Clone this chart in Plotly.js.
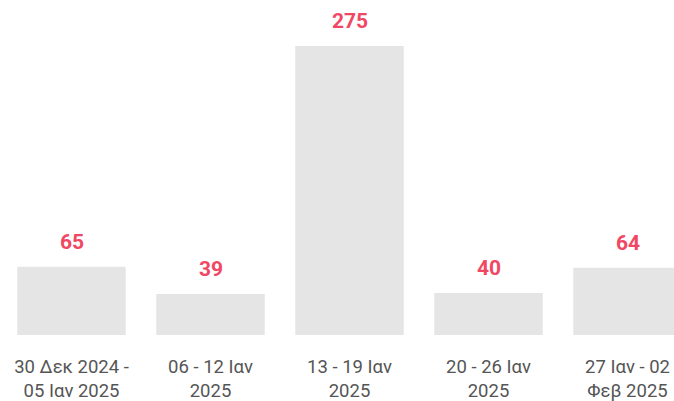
<!DOCTYPE html>
<html>
<head>
<meta charset="utf-8">
<script src="https://cdn.plot.ly/plotly-3.0.1.min.js"></script>
<style>
html, body { margin: 0; padding: 0; overflow: hidden; background: #fff; }
#chart { width: 698px; height: 401px; }
</style>
</head>
<body>
<div id="chart"></div>
<script>
const categories = [
  "30 Δεκ 2024 -<br>05 Ιαν 2025",
  "06 - 12 Ιαν<br>2025",
  "13 - 19 Ιαν<br>2025",
  "20 - 26 Ιαν<br>2025",
  "27 Ιαν - 02<br>Φεβ 2025"
];
const values = [65, 39, 275, 40, 64];

const trace = {
  type: 'bar',
  x: categories,
  y: values,
  marker: { color: '#e5e5e5' },
  hoverinfo: 'none'
};

const annotations = categories.map((c, i) => ({
  x: c, y: values[i], xref: 'x', yref: 'y',
  text: String(values[i]),
  showarrow: false,
  yanchor: 'bottom',
  yshift: 11,
  font: { family: 'Roboto, Arial, sans-serif', size: 21, color: '#f04864', weight: 700 }
}));

const layout = {
  width: 698, height: 401,
  margin: { l: 2, r: 1, t: 0, b: 66 },
  paper_bgcolor: '#fff', plot_bgcolor: '#fff',
  bargap: 0.22,
  showlegend: false,
  xaxis: {
    type: 'category',
    range: [-0.5, 4.5],
    showgrid: false, zeroline: false, showline: false,
    ticks: 'outside', ticklen: 15, tickcolor: 'rgba(0,0,0,0)',
    tickfont: { family: 'Roboto, Arial, sans-serif', size: 18.5, color: '#555555' }
  },
  yaxis: {
    range: [0, 318.7],
    visible: false,
    showgrid: false, zeroline: false
  },
  annotations: annotations
};

Plotly.newPlot('chart', [trace], layout, { displayModeBar: false, staticPlot: true });
</script>
</body>
</html>
